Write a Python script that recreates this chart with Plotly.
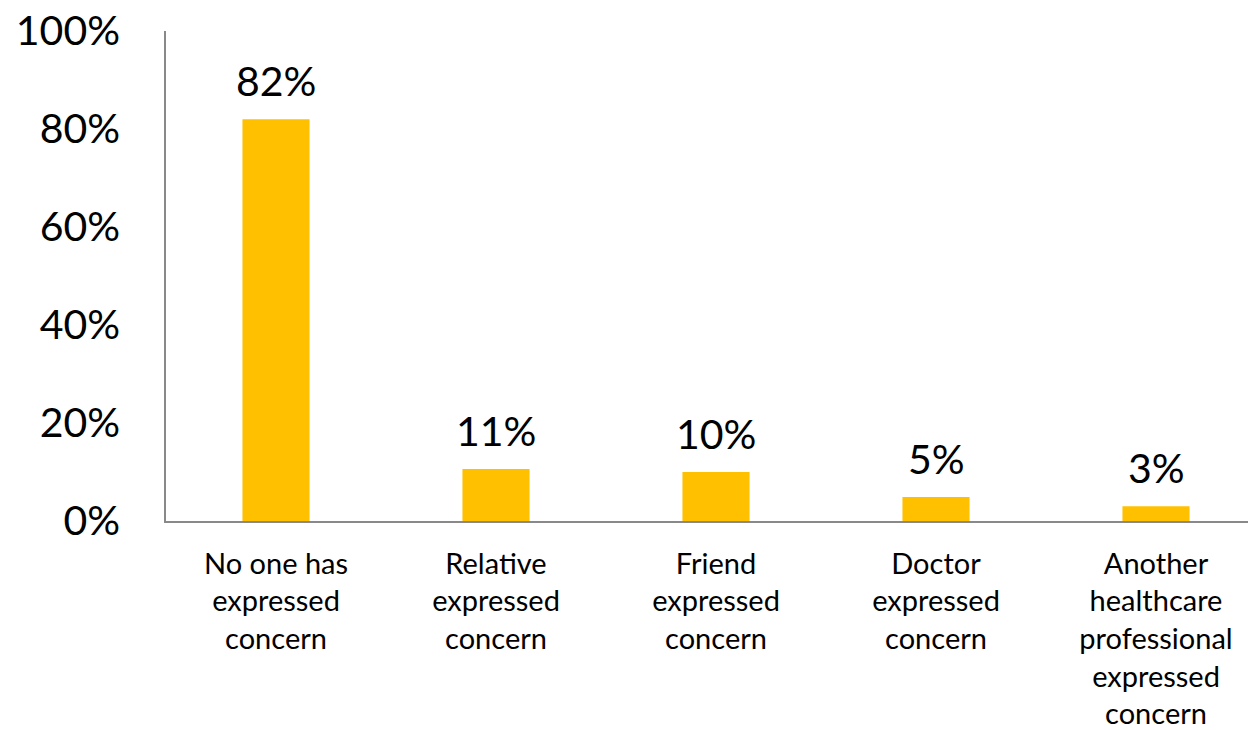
import plotly.graph_objects as go

categories = [
    "No one has<br>expressed<br>concern",
    "Relative<br>expressed<br>concern",
    "Friend<br>expressed<br>concern",
    "Doctor<br>expressed<br>concern",
    "Another<br>healthcare<br>professional<br>expressed<br>concern",
]
values = [82, 10.6, 10, 4.9, 3]
y_ticks = [0, 20, 40, 60, 80, 100]
y_tick_labels = ["0%", "20%", "40%", "60%", "80%", "100%"]

FONT = "Lato, 'Open Sans', sans-serif"
BAR_COLOR = "#FFC000"
AXIS_COLOR = "#898989"

fig = go.Figure()
fig.add_trace(go.Bar(
    x=categories,
    y=values,
    marker=dict(color=BAR_COLOR, line=dict(width=0)),
    width=0.305,
    hoverinfo="skip",
))

for c, v in zip(categories, values):
    fig.add_annotation(
        x=c, y=v, text=f"{round(v)}%", showarrow=False,
        yanchor="bottom", yshift=12,
        font=dict(family=FONT, size=41, color="#000000"),
    )

# the page body adds an 8px offset, so the figure is sized 8px smaller
fig.update_layout(
    width=1248, height=722,
    margin=dict(l=158, r=0, t=23, b=209, pad=0, autoexpand=False),
    paper_bgcolor="white", plot_bgcolor="white",
    showlegend=False,
    bargap=0.695,
    font=dict(family=FONT, color="#000000"),
)
fig.update_xaxes(
    range=[-0.5, -0.5 + 1090 / 220],
    showline=True, linecolor=AXIS_COLOR, linewidth=1.5,
    showgrid=False, zeroline=False, ticks="",
    tickfont=dict(family=FONT, size=29, color="#000000"),
    ticklabelstandoff=16,
    ticklabeloverflow="allow",
    automargin=False,
    fixedrange=True,
)
fig.update_yaxes(
    range=[0, 100],
    tickvals=y_ticks, ticktext=y_tick_labels,
    showline=True, linecolor=AXIS_COLOR, linewidth=1.5,
    showgrid=False, zeroline=False, ticks="",
    tickfont=dict(family=FONT, size=41, color="#000000"),
    ticklabelstandoff=36,
    ticklabeloverflow="allow",
    automargin=False,
    fixedrange=True,
)

fig.write_html("out.html", config={"displayModeBar": False})
